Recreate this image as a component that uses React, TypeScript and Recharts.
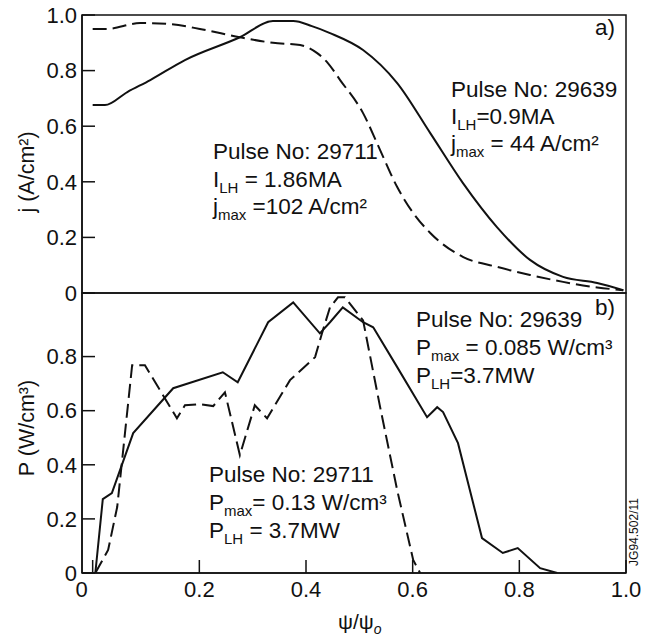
import React from "react";
import { LineChart, Line, XAxis, YAxis, ReferenceArea } from "recharts";

// psi / psi0 axis
const xTicks = [0, 0.2, 0.4, 0.6, 0.8, 1.0];
const jTicks = [0, 0.2, 0.4, 0.6, 0.8, 1.0];
const pTicks = [0, 0.2, 0.4, 0.6, 0.8];

// a) current density, normalised  [psi, j]
const j29639 = [
  [0.0, 0.676], [0.023, 0.676], [0.065, 0.723], [0.108, 0.766], [0.173, 0.838],
  [0.276, 0.92], [0.338, 0.978], [0.376, 0.978], [0.411, 0.96], [0.445, 0.935],
  [0.507, 0.874], [0.571, 0.755], [0.633, 0.575], [0.694, 0.396], [0.758, 0.237],
  [0.82, 0.119], [0.882, 0.058], [0.946, 0.036], [0.995, 0.01],
];
const j29711 = [
  [0.0, 0.95], [0.026, 0.95], [0.089, 0.971], [0.14, 0.968], [0.201, 0.95],
  [0.276, 0.92], [0.338, 0.9], [0.389, 0.892], [0.421, 0.863], [0.441, 0.827],
  [0.464, 0.766], [0.507, 0.647], [0.539, 0.514], [0.571, 0.381], [0.601, 0.288],
  [0.633, 0.216], [0.694, 0.13], [0.758, 0.094], [0.82, 0.065], [0.882, 0.04],
  [0.946, 0.02], [0.995, 0.01],
];

// b) power deposition, normalised  [psi, P]
const p29639 = [
  [0.005, 0], [0.019, 0.273], [0.036, 0.295], [0.076, 0.517], [0.151, 0.683],
  [0.244, 0.742], [0.272, 0.705], [0.329, 0.927], [0.376, 1.0], [0.426, 0.886],
  [0.445, 0.927], [0.469, 0.982], [0.507, 0.927], [0.526, 0.908], [0.571, 0.761],
  [0.627, 0.576], [0.646, 0.613], [0.657, 0.595], [0.685, 0.48], [0.73, 0.129],
  [0.769, 0.074], [0.797, 0.092], [0.839, 0.018], [0.871, 0],
];
const p29711 = [
  [0.005, 0], [0.029, 0.085], [0.046, 0.244], [0.074, 0.768], [0.098, 0.768],
  [0.158, 0.572], [0.173, 0.62], [0.201, 0.624], [0.226, 0.617], [0.248, 0.668],
  [0.276, 0.436], [0.304, 0.62], [0.327, 0.572], [0.37, 0.713], [0.417, 0.798],
  [0.43, 0.886], [0.445, 0.982], [0.46, 1.019], [0.473, 1.019], [0.507, 0.934],
  [0.539, 0.613], [0.571, 0.306], [0.601, 0.048], [0.614, 0],
];

const toPts = (arr: number[][]) => arr.map(([x, y]) => ({ x, y }));

const FONT = "'Liberation Sans', Arial, Helvetica, sans-serif";
const INK = "#111";
const X_DOMAIN: [number, number] = [-0.02, 1];
const P_TOP = 1.035;
const DASH = "14 6";
const TXT = 22.5;

const fmt = (v: number) => (v === 0 ? "0" : v.toFixed(1));

const XTick = (props: any) => {
  const { x, y, payload } = props;
  const v = payload.value;
  return (
    <text x={v === 0 ? x - 11 : x} y={y} dy="0.75em" textAnchor="middle" fontSize={22} fill={INK}>
      {fmt(v)}
    </text>
  );
};

// one annotation line with a subscript in the middle
const SubLine = ({ x, y, main, sub, rest }: { x: number; y: number; main: string; sub: string; rest: string }) => (
  <text x={x} y={y} fontSize={TXT}>
    {main}
    <tspan fontSize={15} dy={6}>{sub}</tspan>
    <tspan dy={-6}>{rest}</tspan>
  </text>
);

export default function App() {
  return (
    <div style={{ position: "absolute", left: 0, top: 0, width: 660, height: 639, background: "#fff", fontFamily: FONT }}>
      <div style={{ position: "absolute", left: 0, top: 292 }}>
        <LineChart width={660} height={347} margin={{ top: 1, right: 34, bottom: 26, left: 0 }}>
          <XAxis
            type="number"
            dataKey="x"
            domain={X_DOMAIN}
            allowDataOverflow
            ticks={xTicks}
            interval={0}
            height={40}
            tickSize={-13}
            tickMargin={20}
            stroke={INK}
            strokeWidth={1.5}
            tick={<XTick />}
          />
          <YAxis
            type="number"
            domain={[0, P_TOP]}
            ticks={pTicks}
            interval={0}
            width={82}
            allowDataOverflow
            tickFormatter={fmt}
            tickSize={-13}
            tickMargin={18}
            stroke={INK}
            strokeWidth={1.5}
            tick={{ fill: INK, fontSize: 22 }}
          />
          <ReferenceArea x1={-0.02} x2={1} y1={0} y2={P_TOP} fill="none" stroke={INK} strokeWidth={1.5} ifOverflow="visible" />
          <Line data={toPts(p29639)} dataKey="y" type="linear" stroke={INK} strokeWidth={2} dot={false} isAnimationActive={false} />
          <Line data={toPts(p29711)} dataKey="y" type="linear" stroke={INK} strokeWidth={2} strokeDasharray={DASH} dot={false} isAnimationActive={false} />
        </LineChart>
      </div>

      <div style={{ position: "absolute", left: 0, top: 0 }}>
        <LineChart width={660} height={310} margin={{ top: 15, right: 34, bottom: 17, left: 0 }}>
          <XAxis type="number" dataKey="x" domain={X_DOMAIN} allowDataOverflow hide />
          <YAxis
            type="number"
            domain={[0, 1]}
            ticks={jTicks}
            interval={0}
            width={82}
            allowDataOverflow
            tickFormatter={fmt}
            tickSize={-13}
            tickMargin={18}
            stroke={INK}
            strokeWidth={1.5}
            tick={{ fill: INK, fontSize: 22 }}
          />
          <ReferenceArea x1={-0.02} x2={1} y1={0} y2={1} fill="none" stroke={INK} strokeWidth={1.5} ifOverflow="visible" />
          <Line data={toPts(j29639)} dataKey="y" type="monotone" stroke={INK} strokeWidth={2} dot={false} isAnimationActive={false} />
          <Line data={toPts(j29711)} dataKey="y" type="monotone" stroke={INK} strokeWidth={2} strokeDasharray={DASH} dot={false} isAnimationActive={false} />
        </LineChart>
      </div>

      <svg width={660} height={639} style={{ position: "absolute", left: 0, top: 0, pointerEvents: "none" }} fontFamily={FONT} fill={INK}>
        <text transform="translate(27,172) rotate(-90)" textAnchor="middle" dominantBaseline="central" fontSize={21.5}>j (A/cm²)</text>
        <text transform="translate(27,428) rotate(-90)" textAnchor="middle" dominantBaseline="central" fontSize={21.5}>P (W/cm³)</text>

        <text x={615} y={35} textAnchor="end" fontSize={TXT}>a)</text>
        <text x={615} y={315} textAnchor="end" fontSize={TXT}>b)</text>

        <text x={451} y={97} fontSize={TXT}>Pulse No: 29639</text>
        <SubLine x={451} y={124} main="I" sub="LH" rest="=0.9MA" />
        <SubLine x={451} y={151} main="j" sub="max" rest=" = 44 A/cm²" />

        <text x={213} y={159} fontSize={TXT}>Pulse No: 29711</text>
        <SubLine x={213} y={187} main="I" sub="LH" rest=" = 1.86MA" />
        <SubLine x={213} y={214} main="j" sub="max" rest=" =102 A/cm²" />

        <text x={416} y={327} fontSize={TXT}>Pulse No: 29639</text>
        <SubLine x={416} y={355} main="P" sub="max" rest=" = 0.085 W/cm³" />
        <SubLine x={416} y={383} main="P" sub="LH" rest="=3.7MW" />

        <text x={209} y={482} fontSize={TXT}>Pulse No:  29711</text>
        <SubLine x={209} y={510} main="P" sub="max" rest="= 0.13 W/cm³" />
        <SubLine x={209} y={538} main="P" sub="LH" rest=" = 3.7MW" />

        <text x={338} y={629} fontSize={21}>
          ψ/ψ<tspan fontSize={14} dy={5} fontStyle="italic">o</tspan>
        </text>
        <text transform="translate(638,532) rotate(-90)" textAnchor="middle" fontSize={12}>JG94.502/11</text>
      </svg>
    </div>
  );
}
